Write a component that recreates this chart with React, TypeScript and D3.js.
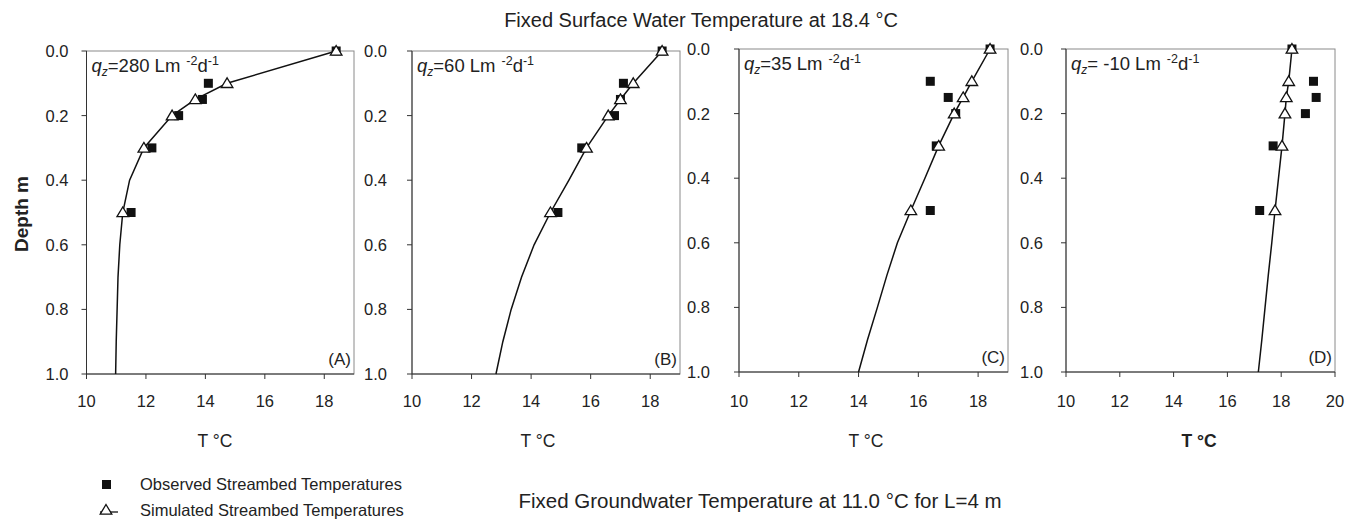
import React from 'react';
import * as d3 from 'd3';

// ---- data ----
const obsDepths = [0, 0.1, 0.15, 0.2, 0.3, 0.5];
const simMarkerDepths = [0, 0.1, 0.15, 0.2, 0.3, 0.5];
const simLineDepths = [0, 0.1, 0.15, 0.2, 0.3, 0.4, 0.5, 0.6, 0.7, 0.8, 0.9, 1.0];

const observedA = [18.4, 14.1, 13.9, 13.1, 12.2, 11.5];
const simulatedA = [18.4, 14.73, 13.66, 12.88, 11.93, 11.45, 11.22, 11.12, 11.06, 11.03, 11.0, 10.98];
const observedB = [18.4, 17.1, 17.0, 16.8, 15.7, 14.9];
const simulatedB = [18.4, 17.43, 17.0, 16.59, 15.86, 15.27, 14.65, 14.1, 13.68, 13.33, 13.05, 12.82];
const observedC = [18.4, 16.4, 17.0, 17.25, 16.6, 16.4];
const simulatedC = [18.4, 17.79, 17.5, 17.2, 16.68, 16.22, 15.75, 15.3, 14.95, 14.63, 14.3, 14.0];
const observedD = [18.4, 19.2, 19.3, 18.9, 17.7, 17.2];
const simulatedD = [18.4, 18.28, 18.19, 18.14, 18.03, 17.9, 17.77, 17.65, 17.52, 17.4, 17.28, 17.15];

const panelTags = ['(A)', '(B)', '(C)', '(D)'];
const fluxLabels = ['=280 Lm', '=60 Lm', '=35 Lm', '= -10 Lm'];
const xDomains: [number, number][] = [[10, 19], [10, 19], [10, 19], [10, 20]];
const xTickSets = [[10, 12, 14, 16, 18], [10, 12, 14, 16, 18], [10, 12, 14, 16, 18], [10, 12, 14, 16, 18, 20]];
const yTicks = [0, 0.2, 0.4, 0.6, 0.8, 1.0];

const titleText = 'Fixed Surface Water Temperature at 18.4 °C';
const footerText = 'Fixed Groundwater Temperature at 11.0 °C for L=4 m';
const legendObserved = 'Observed Streambed Temperatures';
const legendSimulated = 'Simulated Streambed Temperatures';
const xAxisTitle = 'T °C';
const yAxisTitle = 'Depth m';

const observedSets = [observedA, observedB, observedC, observedD];
const simulatedSets = [simulatedA, simulatedB, simulatedC, simulatedD];

// ---- layout ----
const layout = [
  { left: 86.5, right: 354, top: 51, bottom: 374, gap: 18, tx: 215, bold: false },
  { left: 412, right: 680, top: 51, bottom: 374, gap: 25, tx: 538, bold: false },
  { left: 739, right: 1008, top: 49, bottom: 372, gap: 29, tx: 866, bold: false },
  { left: 1066, right: 1335, top: 49, bottom: 372, gap: 23, tx: 1199, bold: true },
];

const FONT = '"Liberation Sans", Arial, Helvetica, sans-serif';

function triPath(cx: number, cy: number) {
  return `M${cx},${cy - 5.5} L${cx + 5.8},${cy + 4.2} L${cx - 5.8},${cy + 4.2} Z`;
}

function Panel({ i }: { i: number }) {
  const L = layout[i];
  const x = d3.scaleLinear().domain(xDomains[i]).range([L.left, L.right]);
  const y = d3.scaleLinear().domain([0, 1]).range([L.top, L.bottom]);
  const sim = simulatedSets[i];
  const obs = observedSets[i];
  const line = d3
    .line<number>()
    .x((v) => x(v))
    .y((_, k) => y(simLineDepths[k]));
  const markers = simMarkerDepths.map((dep) => ({ dep, val: sim[simLineDepths.indexOf(dep)] }));
  return (
    <g>
      <rect x={L.left} y={L.top} width={L.right - L.left} height={L.bottom - L.top} fill="none" stroke="#8a8a8a" strokeWidth={1} />
      <line x1={L.left} x2={L.left} y1={L.top} y2={L.bottom} stroke="#333" strokeWidth={1} />
      <line x1={L.left} x2={L.right} y1={L.bottom} y2={L.bottom} stroke="#333" strokeWidth={1} />
      {xTickSets[i].map((t) => (
        <g key={'xt' + t}>
          <line x1={x(t)} x2={x(t)} y1={L.bottom} y2={L.bottom + 5} stroke="#333" />
          <text x={x(t)} y={407} textAnchor="middle" fontSize={16.5} fill="#222">{t}</text>
        </g>
      ))}
      {yTicks.map((t) => (
        <g key={'yt' + t}>
          <line x1={L.left - 5} x2={L.left} y1={y(t)} y2={y(t)} stroke="#333" />
          <text x={L.left - L.gap} y={y(t)} dy="0.36em" textAnchor="end" fontSize={16.5} fill="#222">{d3.format('.1f')(t)}</text>
        </g>
      ))}
      <path d={line(sim) || ''} fill="none" stroke="#111" strokeWidth={1.5} />
      {obs.map((v, k) => (
        <rect key={'o' + k} x={x(v) - 4.5} y={y(obsDepths[k]) - 4.5} width={9} height={9} fill="#111" />
      ))}
      {markers.map((m, k) => (
        <path key={'s' + k} d={triPath(x(m.val), y(m.dep))} fill="#fff" stroke="#111" strokeWidth={1.3} />
      ))}
      <text x={L.left + 5} y={L.top + 21} fontSize={18.5} fill="#222">
        <tspan fontStyle="italic">q</tspan>
        <tspan fontStyle="italic" fontSize={12} dy={4}>z</tspan>
        <tspan dy={-4}>{fluxLabels[i]}</tspan>
        <tspan fontSize={12.5} dy={-7} dx={6}>-2</tspan>
        <tspan dy={7}>d</tspan>
        <tspan fontSize={12.5} dy={-7}>-1</tspan>
      </text>
      <text x={L.right - 3} y={L.bottom - 9} textAnchor="end" fontSize={17} fill="#222">{panelTags[i]}</text>
      <text x={L.tx} y={447} textAnchor="middle" fontSize={17.5} fontWeight={L.bold ? 'bold' : 'normal'} fill="#222">{xAxisTitle}</text>
    </g>
  );
}

export default function App() {
  return (
    <svg width={1355} height={523} style={{ position: 'absolute', left: 0, top: 0, display: 'block', background: '#fff' }} fontFamily={FONT}>
      <rect x={0} y={0} width={1355} height={523} fill="#fff" />
      <text x={701} y={27} textAnchor="middle" fontSize={20} fill="#222">{titleText}</text>
      <text x={21} y={214} transform="rotate(-90 21 214)" dy="0.35em" textAnchor="middle" fontSize={19} fontWeight="bold" fill="#222">{yAxisTitle}</text>
      {[0, 1, 2, 3].map((i) => (
        <Panel key={i} i={i} />
      ))}
      <rect x={102} y={480} width={9} height={9} fill="#111" />
      <text x={140} y={490} fontSize={16.5} fill="#222">{legendObserved}</text>
      <line x1={100} x2={118} y1={512} y2={512} stroke="#111" strokeWidth={1.3} />
      <path d={triPath(106, 510)} fill="#fff" stroke="#111" strokeWidth={1.3} />
      <text x={140} y={516} fontSize={16.5} fill="#222">{legendSimulated}</text>
      <text x={760} y={508} textAnchor="middle" fontSize={20.5} fill="#222">{footerText}</text>
    </svg>
  );
}
